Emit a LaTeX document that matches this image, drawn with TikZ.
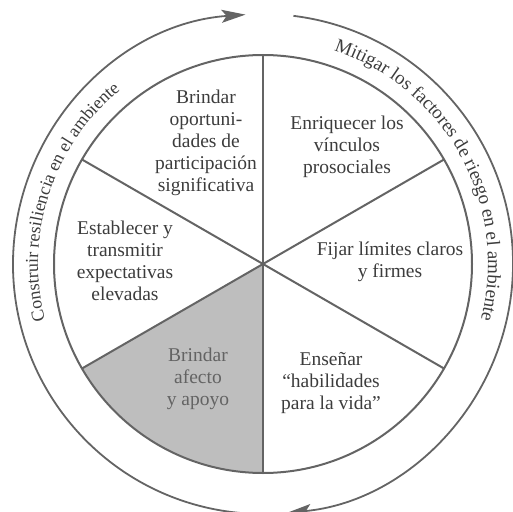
\documentclass[tikz,border=0pt]{standalone}
\usepackage{fontspec}
\setmainfont{Liberation Serif}
\usetikzlibrary{decorations.text,arrows.meta}
\definecolor{ln}{RGB}{100,100,100}
\definecolor{tx}{RGB}{60,60,60}
\definecolor{sh}{RGB}{190,190,190}
\tikzset{
  lbl/.style={align=center, text=tx, font=\fontsize{19.5}{22}\selectfont, inner sep=0pt},
  spoke/.style={draw=ln, line width=2pt},
  cyc/.style={draw=ln, line width=1.8pt, -{Stealth[length=24pt,width=13pt,inset=5pt]}}
}
\begin{document}
\begin{tikzpicture}[x=1pt,y=1pt]
\useasboundingbox (-263,-247) rectangle (250,264);
\coordinate (O) at (0,0);
\fill[sh] (O) -- (210:209) arc[start angle=210,end angle=270,radius=209] -- cycle;
\foreach \a [count=\i] in {90,30,150}{
  \coordinate (s\i a) at (\a:209);
  \coordinate (s\i b) at (\a+180:209);
  \draw[spoke] (s\i a) -- (s\i b);
}
\draw[spoke] (O) circle[radius=209];

\node[lbl] (n1) at (-57,121) {Brindar\\oportuni-\\dades de\\participación\\significativa};
\node[lbl] (n2) at (84,117) {Enriquecer los\\vínculos\\prosociales};
\node[lbl] (n3) at (127,2) {Fijar límites claros\\y firmes};
\node[lbl] (n4) at (68,-119) {Enseñar\\“habilidades\\para la vida”};
\node[lbl, text=tx!80] (n5) at (-65,-115) {Brindar\\afecto\\y apoyo};
\node[lbl] (n6) at (-138,3) {Establecer y\\transmitir\\expectativas\\elevadas};

\coordinate (a1s) at (265:250);
\coordinate (a2s) at (83:250);
\draw[cyc] (a1s) arc[start angle=265, end angle=94, radius=250];
\draw[cyc] (a2s) arc[start angle=83, end angle=-84.5, radius=250];

\path[decorate, decoration={text along path, text align=center,
  text={|\fontsize{18}{18}\selectfont\color{tx}|Construir resiliencia en el ambiente}}]
  (216.9:225) arc[start angle=216.9, end angle=106.9, radius=225];
\path[decorate, decoration={text along path, text align=center,
  text={|\fontsize{19}{19}\selectfont\color{tx}|Mitigar los factores de riesgo en el ambiente}}]
  (88.6:225) arc[start angle=88.6, end angle=-31.4, radius=225];
\end{tikzpicture}
\end{document}
